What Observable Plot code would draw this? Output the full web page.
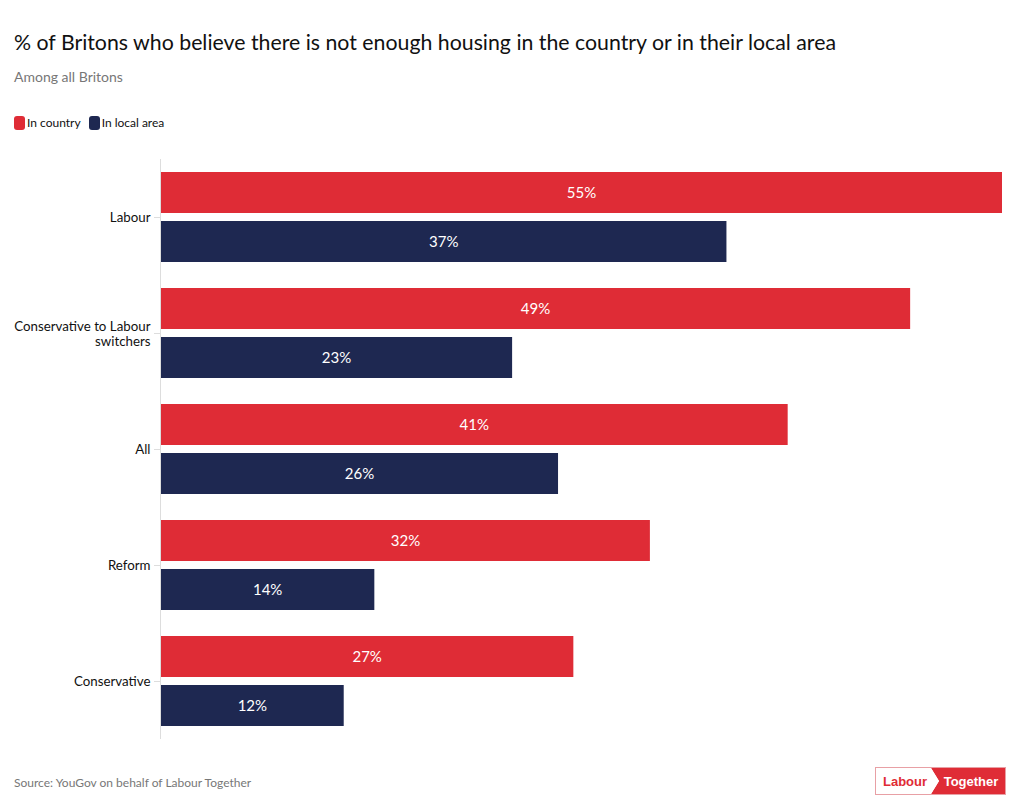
<!DOCTYPE html>
<html>
<head>
<meta charset="utf-8">
<script src="https://cdn.jsdelivr.net/npm/d3@7"></script>
<script src="https://cdn.jsdelivr.net/npm/@observablehq/plot@0.6"></script>
<style>
  html, body { margin: 0; padding: 0; background: #fff; }
  body { width: 1020px; height: 812px; position: relative; font-family: Lato, "Open Sans", sans-serif; overflow: hidden; }
  #title { position: absolute; left: 14px; top: 29px; font-size: 21.3px; color: #111; white-space: nowrap; }
  #subtitle { position: absolute; left: 14px; top: 68px; font-size: 14px; color: #777; }
  #legend { position: absolute; left: 14px; top: 115px; font-size: 12px; color: #111; display: flex; align-items: center; }
  .sw { display: inline-block; width: 11px; height: 14px; border-radius: 3px; margin-right: 2px; }
  .item { display: flex; align-items: center; margin-right: 8px; }
  #chart { position: absolute; left: 0; top: 151px; }
  #source { position: absolute; left: 14px; top: 775px; font-size: 12px; color: #777; }
  #logo { position: absolute; left: 875px; top: 767px; }
</style>
</head>
<body>
<div id="title">% of Britons who believe there is not enough housing in the country or in their local area</div>
<div id="subtitle">Among all Britons</div>
<div id="legend"></div>
<div id="chart"></div>
<div id="source">Source: YouGov on behalf of Labour Together</div>
<div id="logo">
  <svg width="131" height="28" viewBox="0 0 131 28">
    <rect x="0.5" y="0.5" width="130" height="27" fill="#fff" stroke="#e8a0a5"/>
    <polygon points="56,1 130,1 130,27 56,27 64,14" fill="#DF2C36"/>
    <polygon points="56,1 64,14 56,27" fill="#fff"/>
    <text x="30" y="19" text-anchor="middle" font-family="Liberation Sans, Arial, sans-serif" font-weight="bold" font-size="13" fill="#DF2C36">Labour</text>
    <text x="96" y="19" text-anchor="middle" font-family="Liberation Sans, Arial, sans-serif" font-weight="bold" font-size="13" fill="#fff">Together</text>
  </svg>
</div>
<script>
const categories = ["Labour", "Conservative to Labour\nswitchers", "All", "Reform", "Conservative"];
const series = ["In country", "In local area"];
const inCountry = [55, 49, 41, 32, 27];
const inLocalArea = [37, 23, 26, 14, 12];
const colors = ["#DF2C36", "#1E2851"];

const data = [];
categories.forEach((c, i) => {
  data.push({cat: c, series: series[0], value: inCountry[i]});
  data.push({cat: c, series: series[1], value: inLocalArea[i]});
});

// legend
const legend = document.getElementById("legend");
series.forEach((s, i) => {
  const item = document.createElement("div");
  item.className = "item";
  item.innerHTML = `<span class="sw" style="background:${colors[i]}"></span><span>${s}</span>`;
  legend.appendChild(item);
});

const chart = Plot.plot({
  width: 1020,
  height: 600,
  marginLeft: 160,
  marginRight: 18,
  marginTop: 8,
  marginBottom: 12,
  style: {fontFamily: "Lato, 'Open Sans', sans-serif", fontSize: "13.3px", color: "#111"},
  x: {domain: [0, 55], axis: null},
  fy: {domain: categories, padding: 0, label: null},
  y: {domain: series, paddingInner: 0.163, paddingOuter: 0.265, axis: null},
  color: {domain: series, range: colors},
  marks: [
    Plot.barX(data, {fy: "cat", y: "series", x: "value", fill: "series"}),
    Plot.text(data, {fy: "cat", y: "series", x: d => d.value / 2, text: d => d.value + "%", fill: "white", fontSize: 15}),
    Plot.ruleX([0], {stroke: "#ddd"}),
    Plot.axisFy({anchor: "left", label: null, text: null, tickSize: 6, stroke: "#ddd"}),
    Plot.axisFy({anchor: "left", label: null, tickSize: 0, tickPadding: 10, fill: "#111", fontSize: 13.3, lineHeight: 1.1})
  ]
});
document.getElementById("chart").appendChild(chart);
</script>
</body>
</html>
